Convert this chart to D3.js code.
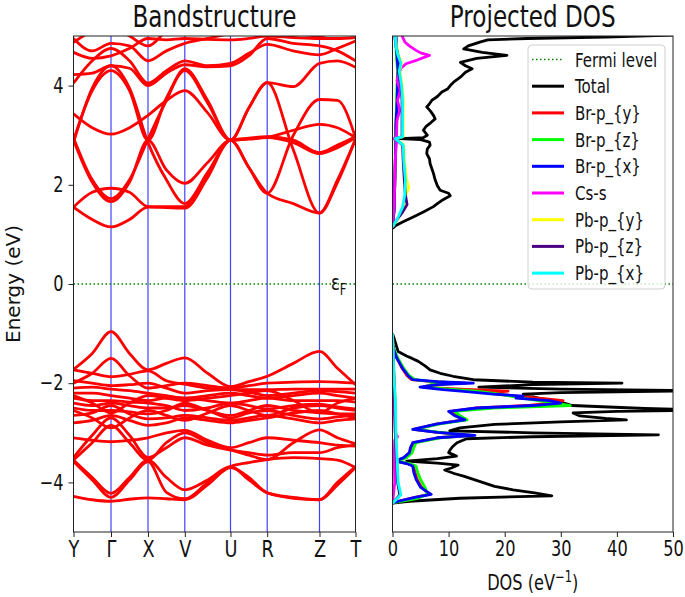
<!DOCTYPE html>
<html><head><meta charset="utf-8">
<script src="https://cdn.jsdelivr.net/npm/d3@7"></script>
<style>body{margin:0;background:#fff} svg{font-family:"DejaVu Sans",sans-serif}</style>
</head><body><svg id="c" width="685" height="597"></svg>
<script>
// ---------------- DATA ----------------
const kLabels = ["Y", "Γ", "X", "V", "U", "R", "Z", "T"];
const kTicks = [0, 0.375, 0.745, 1.113, 1.570, 1.937, 2.460, 2.820];
// k positions of the sampled band energies (high-symmetry points and segment midpoints)
const kPath = [0, 0.1875, 0.375, 0.56, 0.745, 0.929, 1.113, 1.3415, 1.570, 1.7535, 1.937, 2.1985, 2.460, 2.640, 2.820];

const conductionBands = [
  [1.55, 1.30, 1.15, 1.30, 1.55, 1.54, 1.53, 2.15, 2.90, 2.35, 1.83, 1.62, 1.43, 2.05, 2.92],
  [1.55, 1.85, 1.93, 1.85, 1.56, 1.56, 1.56, 2.20, 2.90, 2.35, 1.83, 3.00, 3.72, 3.70, 2.95],
  [2.90, 2.05, 1.66, 2.05, 2.90, 2.30, 2.03, 2.45, 2.90, 2.92, 2.95, 2.85, 2.63, 2.75, 2.95],
  [2.95, 2.10, 1.72, 2.10, 2.92, 3.70, 4.34, 3.70, 2.90, 2.93, 2.96, 3.10, 3.22, 3.15, 2.95],
  [3.43, 3.15, 3.02, 3.15, 3.40, 3.70, 3.90, 3.45, 2.90, 3.55, 4.06, 2.70, 1.43, 2.10, 2.92],
  [2.90, 3.90, 4.30, 3.90, 2.90, 3.75, 4.30, 3.65, 2.90, 3.55, 4.06, 3.98, 4.45, 4.50, 4.37],
  [2.85, 3.95, 4.40, 3.95, 2.85, 2.10, 1.62, 2.25, 2.90, 2.94, 2.97, 2.90, 2.65, 2.80, 2.97],
  [4.05, 4.50, 4.75, 4.50, 4.05, 4.30, 4.50, 4.40, 4.45, 4.65, 4.83, 4.70, 4.62, 4.75, 4.90],
  [4.22, 4.25, 4.40, 4.35, 4.00, 4.25, 4.42, 4.38, 4.40, 4.60, 4.95, 4.85, 4.80, 4.70, 4.50],
  [4.67, 4.55, 4.60, 4.75, 4.95, 4.92, 4.95, 4.93, 4.92, 4.95, 5.00, 4.97, 4.95, 4.95, 4.97],
  [4.95, 4.70, 4.85, 4.80, 4.50, 4.70, 4.85, 4.95, 5.05, 5.10, 5.10, 5.05, 5.00, 5.10, 5.20],
  [4.87, 5.10, 5.20, 5.00, 4.80, 5.10, 5.30, 5.30, 5.30, 5.30, 5.30, 5.30, 5.30, 5.30, 5.30]
];

const valenceBands = [
  [-1.72, -1.40, -0.96, -1.40, -1.73, -1.60, -1.49, -1.80, -2.07, -1.97, -1.86, -1.60, -1.36, -1.70, -2.03],
  [-2.00, -1.80, -1.50, -1.85, -2.10, -2.05, -2.00, -2.05, -2.10, -2.05, -2.00, -1.98, -1.97, -1.98, -2.00],
  [-1.73, -1.80, -1.87, -1.82, -1.75, -1.95, -2.02, -2.10, -2.13, -2.13, -2.13, -2.12, -2.12, -2.12, -2.12],
  [-1.95, -2.00, -2.05, -2.03, -2.00, -2.10, -2.20, -2.15, -2.13, -2.18, -2.25, -2.20, -2.15, -2.17, -2.20],
  [-2.10, -2.08, -2.12, -2.15, -2.20, -2.25, -2.30, -2.25, -2.20, -2.25, -2.30, -2.25, -2.20, -2.25, -2.30],
  [-2.20, -2.20, -2.25, -2.30, -2.35, -2.30, -2.30, -2.35, -2.40, -2.35, -2.30, -2.35, -2.35, -2.35, -2.38],
  [-2.30, -2.35, -2.35, -2.38, -2.40, -2.45, -2.55, -2.50, -2.40, -2.45, -2.52, -2.45, -2.42, -2.48, -2.52],
  [-2.40, -2.45, -2.40, -2.45, -2.50, -2.50, -2.45, -2.55, -2.65, -2.55, -2.45, -2.55, -2.60, -2.62, -2.62],
  [-2.50, -2.55, -2.55, -2.58, -2.62, -2.55, -2.40, -2.55, -2.70, -2.60, -2.55, -2.65, -2.72, -2.68, -2.65],
  [-2.65, -2.60, -2.45, -2.62, -2.72, -2.70, -2.65, -2.70, -2.75, -2.70, -2.65, -2.72, -2.80, -2.75, -2.72],
  [-2.80, -2.75, -2.65, -2.75, -2.85, -2.80, -2.70, -2.75, -2.80, -2.75, -2.70, -2.60, -2.55, -2.62, -2.70],
  [-2.25, -2.40, -2.60, -2.40, -2.25, -2.30, -2.35, -2.30, -2.25, -2.20, -2.15, -2.35, -2.60, -2.40, -2.30],
  [-2.55, -2.70, -2.90, -2.70, -2.55, -2.65, -2.75, -2.60, -2.45, -2.55, -2.65, -2.50, -2.45, -2.50, -2.55],
  [-3.10, -3.15, -3.18, -3.15, -3.10, -3.00, -2.95, -3.15, -3.30, -3.20, -3.10, -3.15, -3.20, -3.25, -3.27],
  [-3.55, -3.20, -2.85, -3.20, -3.55, -3.20, -3.00, -3.20, -3.34, -3.45, -3.54, -3.20, -2.94, -3.10, -3.22],
  [-3.50, -3.05, -2.70, -3.05, -3.50, -3.30, -3.10, -3.25, -3.35, -3.40, -3.45, -3.40, -3.40, -3.30, -3.25],
  [-3.55, -3.90, -4.22, -3.90, -3.55, -3.90, -4.15, -3.95, -3.68, -3.95, -4.21, -4.32, -4.35, -4.05, -3.70],
  [-3.58, -3.95, -4.30, -3.95, -3.58, -4.20, -4.33, -4.00, -3.68, -3.60, -3.54, -3.50, -3.52, -3.55, -3.70],
  [-4.28, -4.35, -4.38, -4.34, -4.31, -4.33, -4.35, -4.05, -3.70, -3.90, -4.21, -4.30, -4.35, -4.00, -3.68]
];

const energyTicks = [-4, -2, 0, 2, 4];
const dosTicks = [0, 10, 20, 30, 40, 50];

// DOS series: [energy (eV), DOS (1/eV)]
const dosTotal = [
  [5.02, 50], [4.98, 38], [4.95, 24], [4.92, 17], [4.88, 15.7], [4.80, 13.5], [4.74, 12.7], [4.67, 16], [4.61, 20.4],
  [4.55, 15], [4.47, 12.1], [4.40, 13], [4.34, 14.2], [4.27, 13], [4.17, 12.1], [4.08, 11], [4.00, 10.3], [3.93, 9.8],
  [3.87, 8.8], [3.78, 8.0], [3.70, 7.0], [3.62, 6.5], [3.57, 6.1], [3.48, 6.8], [3.40, 7.3], [3.33, 7.6], [3.25, 6.8],
  [3.18, 6.0], [3.10, 5.5], [3.00, 6.2], [2.95, 5.5], [2.93, 1.3], [2.91, 5.0], [2.86, 6.6], [2.80, 6.7], [2.72, 6.2],
  [2.63, 6.1], [2.52, 6.6], [2.43, 6.7], [2.33, 7.0], [2.23, 7.3], [2.10, 7.6], [1.98, 8.0], [1.89, 8.5], [1.83, 10.0],
  [1.78, 10.3], [1.70, 9.0], [1.62, 8.0], [1.56, 7.3], [1.45, 5.5], [1.35, 3.7], [1.25, 1.8], [1.18, 0.6], [1.12, 0],
  [-1.00, 0], [-1.10, 0.3], [-1.25, 0.7], [-1.36, 1.0], [-1.45, 2.5], [-1.50, 3.5], [-1.56, 4.6], [-1.65, 5.8],
  [-1.73, 6.7], [-1.80, 8.5], [-1.86, 10.8], [-1.93, 14.4], [-1.98, 25], [-2.00, 40.9], [-2.03, 25], [-2.08, 15.4],
  [-2.12, 30], [-2.15, 55], [-2.19, 30], [-2.22, 23.3], [-2.30, 26], [-2.38, 30], [-2.45, 32], [-2.51, 45], [-2.54, 55],
  [-2.57, 40], [-2.60, 32.2], [-2.66, 33.4], [-2.71, 38], [-2.74, 41.7], [-2.78, 30], [-2.83, 18.2], [-2.90, 12],
  [-2.96, 10.2], [-3.00, 25], [-3.04, 47.4], [-3.08, 25], [-3.12, 13.2], [-3.20, 11.5], [-3.27, 10.8], [-3.34, 10.3],
  [-3.40, 10.0], [-3.47, 11.4], [-3.52, 8], [-3.57, 2.5], [-3.61, 8], [-3.65, 11.7], [-3.71, 10.5], [-3.75, 9.3],
  [-3.82, 11], [-3.88, 12.8], [-3.98, 15.5], [-4.08, 18.2], [-4.15, 21.5], [-4.21, 25.3], [-4.27, 28.4], [-4.32, 12],
  [-4.38, 3], [-4.42, 0]
];
const dosBrPy = [
  [5.02, 0.6], [4.6, 0.8], [4.3, 1.0], [4.0, 0.9], [3.6, 0.8], [3.2, 0.6], [2.9, 0.6], [2.5, 0.5], [2.0, 0.4], [1.5, 0.3], [1.15, 0],
  [-1.20, 0], [-1.35, 0.3], [-1.50, 0.8], [-1.70, 1.7], [-1.85, 2.6], [-1.93, 3.4], [-1.97, 7], [-2.00, 13], [-2.03, 7],
  [-2.08, 5.5], [-2.12, 12], [-2.16, 20.6], [-2.20, 17], [-2.26, 22], [-2.31, 27], [-2.35, 30.4], [-2.40, 28], [-2.45, 24],
  [-2.50, 15], [-2.57, 10.5], [-2.65, 11.5], [-2.74, 12.5], [-2.82, 8], [-2.93, 3.8], [-2.99, 8], [-3.05, 14], [-3.10, 8],
  [-3.20, 3.8], [-3.30, 3.3], [-3.40, 3.1], [-3.50, 2.2], [-3.57, 0.7], [-3.62, 2.7], [-3.67, 3.8], [-3.80, 4.0],
  [-3.94, 4.4], [-4.10, 5.2], [-4.24, 6.5], [-4.30, 4], [-4.38, 1], [-4.42, 0]
];
const dosBrPz = [
  [5.02, 0.5], [4.6, 0.7], [4.3, 0.9], [4.0, 0.8], [3.6, 0.7], [3.2, 0.6], [2.9, 0.5], [2.5, 0.5], [2.0, 0.4], [1.5, 0.3], [1.15, 0],
  [-1.20, 0], [-1.35, 0.4], [-1.50, 1.0], [-1.70, 2.0], [-1.85, 3.0], [-1.93, 4.0], [-1.97, 7], [-2.00, 12.5], [-2.03, 7],
  [-2.08, 5.8], [-2.12, 10], [-2.16, 15], [-2.22, 19], [-2.28, 22], [-2.35, 26], [-2.40, 29], [-2.45, 31.7], [-2.50, 18],
  [-2.57, 11], [-2.65, 12], [-2.74, 13.3], [-2.82, 8.5], [-2.93, 4.0], [-2.99, 8.5], [-3.05, 14], [-3.10, 8.5],
  [-3.20, 4.2], [-3.30, 3.8], [-3.40, 3.5], [-3.50, 2.5], [-3.57, 1.0], [-3.62, 3.0], [-3.67, 4.2], [-3.80, 4.5],
  [-3.94, 5.0], [-4.10, 5.8], [-4.24, 6.2], [-4.32, 4.5], [-4.38, 1.5], [-4.42, 0]
];
const dosBrPx = [
  [5.02, 0.6], [4.6, 0.8], [4.3, 1.0], [4.0, 0.9], [3.6, 0.8], [3.2, 0.6], [2.9, 0.6], [2.5, 0.5], [2.0, 0.4], [1.5, 0.3], [1.15, 0],
  [-1.20, 0], [-1.35, 0.3], [-1.50, 0.8], [-1.70, 1.8], [-1.85, 2.8], [-1.93, 3.6], [-1.97, 8], [-2.00, 14.4], [-2.03, 8],
  [-2.08, 4.9], [-2.13, 9], [-2.17, 13.2], [-2.22, 18], [-2.26, 23.3], [-2.30, 22], [-2.35, 28], [-2.40, 30], [-2.45, 25],
  [-2.50, 15], [-2.57, 10], [-2.65, 11], [-2.74, 12.9], [-2.82, 8], [-2.93, 3.6], [-2.99, 8], [-3.05, 14.7], [-3.10, 8],
  [-3.20, 3.6], [-3.30, 3.2], [-3.40, 3.0], [-3.50, 2.0], [-3.57, 0.5], [-3.62, 2.5], [-3.67, 3.6], [-3.80, 3.8],
  [-3.94, 4.2], [-4.10, 5.0], [-4.24, 6.9], [-4.30, 4], [-4.38, 1], [-4.42, 0]
];
const dosCsS = [
  [5.05, 1.5], [4.98, 1.8], [4.88, 2.2], [4.80, 3.0], [4.71, 4.2], [4.66, 5.0], [4.61, 6.6], [4.52, 4.5], [4.44, 2.4],
  [4.35, 1.5], [4.25, 1.2], [4.10, 0.8], [3.90, 1.4], [3.70, 0.9], [3.50, 1.3], [3.30, 0.8], [2.96, 0.7], [2.93, 0.2],
  [2.90, 0.7], [2.50, 0.5], [2.00, 0.4], [1.60, 0.3], [1.15, 0],
  [-1.00, 0], [-2.00, 0.2], [-2.50, 0.3], [-3.00, 0.5], [-3.08, 0.9], [-3.15, 0.4], [-3.50, 0.3], [-4.00, 0.4], [-4.42, 0]
];
const dosPbPy = [
  [5.0, 0.5], [4.8, 0.7], [4.6, 1.1], [4.45, 1.6], [4.3, 1.3], [4.0, 1.7], [3.7, 1.9], [3.3, 1.9], [2.97, 1.9], [2.93, 0.6],
  [2.8, 2.0], [2.5, 2.1], [2.1, 2.5], [1.95, 2.9], [1.8, 2.4], [1.55, 1.9], [1.3, 0.9], [1.15, 0],
  [-1.00, 0], [-2.00, 0.3], [-2.30, 0.5], [-3.00, 0.6], [-3.50, 0.8], [-4.00, 1.0], [-4.25, 1.4], [-4.42, 0]
];
const dosPbPz = [
  [5.0, 0.4], [4.8, 0.6], [4.6, 1.0], [4.45, 1.4], [4.3, 1.1], [4.0, 1.5], [3.7, 1.7], [3.3, 1.7], [2.97, 1.7], [2.93, 0.5],
  [2.8, 1.8], [2.5, 1.9], [2.1, 2.1], [1.8, 2.3], [1.6, 2.6], [1.45, 1.8], [1.3, 0.8], [1.15, 0],
  [-1.00, 0], [-2.00, 0.3], [-2.30, 0.4], [-3.00, 0.5], [-3.50, 0.7], [-4.00, 0.9], [-4.25, 1.3], [-4.42, 0]
];
const dosPbPx = [
  [5.0, 0.5], [4.8, 0.6], [4.6, 1.0], [4.45, 1.5], [4.3, 1.2], [4.0, 1.6], [3.7, 1.8], [3.3, 1.8], [2.97, 1.8], [2.93, 0.5],
  [2.8, 1.9], [2.5, 2.0], [2.1, 2.3], [1.8, 2.2], [1.55, 1.8], [1.3, 0.8], [1.15, 0],
  [-1.00, 0], [-2.00, 0.3], [-2.30, 0.5], [-3.00, 0.6], [-3.50, 0.8], [-4.00, 1.0], [-4.25, 1.5], [-4.42, 0]
];

const dosNames = ["Total", "Br-p_{y}", "Br-p_{z}", "Br-p_{x}", "Cs-s", "Pb-p_{y}", "Pb-p_{z}", "Pb-p_{x}"];
const dosSeries = [dosTotal, dosBrPy, dosBrPz, dosBrPx, dosCsS, dosPbPy, dosPbPz, dosPbPx];
const dosColors = ["#000000", "#ff0000", "#00ff00", "#0000ff", "#ff00ff", "#ffff00", "#4b0082", "#00ffff"];

// ---------------- DRAW ----------------
const SX = 0.77; // horizontal glyph compression of the reference picture
const svg = d3.select("#c");
const yE = d3.scaleLinear().domain([-5, 5]).range([532, 36]);
const xK = d3.scaleLinear().domain([0, 2.82]).range([73.5, 355.5]);
const xD = d3.scaleLinear().domain([0, 50]).range([392.5, 673]);

const defs = svg.append("defs");
defs.append("clipPath").attr("id", "clipL").append("rect")
  .attr("x", xK(0)).attr("y", yE(5)).attr("width", xK(2.82) - xK(0)).attr("height", yE(-5) - yE(5));
defs.append("clipPath").attr("id", "clipR").append("rect")
  .attr("x", xD(0)).attr("y", yE(5)).attr("width", xD(50) - xD(0)).attr("height", yE(-5) - yE(5));

function sText(x, y, str, size, anchor, rot, sx) {
  const s = sx === undefined ? SX : sx;
  const g = svg.append("g").attr("transform", `translate(${x},${y}) scale(${s},1)` + (rot ? ` rotate(${rot})` : ""));
  return g.append("text").attr("text-anchor", anchor || "middle").attr("font-size", size).attr("fill", "#111").text(str);
}

// ----- Band structure panel -----
const gL = svg.append("g").attr("clip-path", "url(#clipL)");
gL.selectAll("line.kv").data(kTicks.slice(1, -1)).join("line")
  .attr("x1", d => xK(d)).attr("x2", d => xK(d)).attr("y1", yE(5)).attr("y2", yE(-5))
  .attr("stroke", "#0000ff").attr("stroke-opacity", 0.75).attr("stroke-width", 1.2);
gL.append("line").attr("x1", xK(0)).attr("x2", xK(2.82)).attr("y1", yE(0)).attr("y2", yE(0))
  .attr("stroke", "#008000").attr("stroke-width", 1.5).attr("stroke-dasharray", "1.5,2.5");

const bandLine = d3.line().x((d, i) => xK(kPath[i])).y(d => yE(d)).curve(d3.curveMonotoneX);
gL.selectAll("path.band").data(conductionBands.concat(valenceBands)).join("path")
  .attr("d", bandLine).attr("fill", "none").attr("stroke", "#ff0000").attr("stroke-width", 2.8)
  .attr("stroke-linejoin", "round");

// epsilon_F label
{
  const t = sText(331, yE(0) + 6, "ε", 21, "start");
  t.append("tspan").attr("dy", 5).attr("font-size", 15).text("F");
}

// axes left panel
const axL = svg.append("g").attr("transform", `translate(${xK(0)},0)`)
  .call(d3.axisLeft(yE).tickValues(energyTicks).tickSize(5).tickSizeOuter(0).tickPadding(5));
const axB = svg.append("g").attr("transform", `translate(0,${yE(-5)})`)
  .call(d3.axisBottom(xK).tickValues(kTicks).tickFormat((d, i) => kLabels[i]).tickSize(5).tickSizeOuter(0).tickPadding(4));
// axes right panel
const axD = svg.append("g").attr("transform", `translate(0,${yE(-5)})`)
  .call(d3.axisBottom(xD).tickValues(dosTicks).tickFormat(d3.format("d")).tickSize(5).tickSizeOuter(0).tickPadding(4));

[axL, axB, axD].forEach(a => {
  a.select(".domain").remove();
  a.selectAll(".tick line").attr("stroke", "#222").attr("stroke-width", 1);
  a.selectAll(".tick text").attr("fill", "#111").attr("font-family", "DejaVu Sans");
});
axL.selectAll(".tick text").attr("font-size", 21).attr("x", -10 / SX).attr("transform", `scale(${SX},1)`);
axB.selectAll(".tick text").attr("font-size", 23).attr("transform", `scale(${SX},1)`);
axD.selectAll(".tick text").attr("font-size", 21).attr("transform", `scale(${SX},1)`);

// ----- DOS panel -----
const gR = svg.append("g").attr("clip-path", "url(#clipR)");
gR.append("line").attr("x1", xD(0)).attr("x2", xD(50)).attr("y1", yE(0)).attr("y2", yE(0))
  .attr("stroke", "#008000").attr("stroke-width", 1.5).attr("stroke-dasharray", "1.5,2.5");
const dosLine = d3.line().x(d => xD(d[1])).y(d => yE(d[0])).curve(d3.curveLinear);
dosSeries.forEach((s, i) => {
  const segs = [s.filter(d => d[0] > 0), s.filter(d => d[0] < 0)];
  segs.forEach(seg => {
    gR.append("path").attr("d", dosLine(seg)).attr("fill", "none").attr("stroke", dosColors[i])
      .attr("stroke-width", 2.8).attr("stroke-linejoin", "round");
  });
});

// frames
[[xK(0), xK(2.82)], [xD(0), xD(50)]].forEach(([a, b]) => {
  svg.append("rect").attr("x", a).attr("y", yE(5)).attr("width", b - a).attr("height", yE(-5) - yE(5))
    .attr("fill", "none").attr("stroke", "#222").attr("stroke-width", 1);
});

// legend
const lg = svg.append("g");
lg.append("rect").attr("x", 528).attr("y", 45).attr("width", 137).attr("height", 244).attr("rx", 4)
  .attr("fill", "#fff").attr("fill-opacity", 0.8).attr("stroke", "#d0d0d0").attr("stroke-width", 1);
const legItems = [{name: "Fermi level", color: "#008000", dotted: true}]
  .concat(dosNames.map((n, i) => ({name: n, color: dosColors[i], dotted: false})));
legItems.forEach((it, i) => {
  const yy = 59.5 + i * 26.7;
  lg.append("line").attr("x1", 532).attr("x2", 564).attr("y1", yy).attr("y2", yy)
    .attr("stroke", it.color).attr("stroke-width", it.dotted ? 1.5 : 3)
    .attr("stroke-dasharray", it.dotted ? "1.5,2.5" : null);
  sText(575, yy + 7, it.name, 19.5, "start");
});

// titles and labels
sText(xK(1.41), 27, "Bandstructure", 30, "middle");
sText(xD(25), 27, "Projected DOS", 30, "middle");
sText(20, yE(0), "Energy (eV)", 20, "middle", -90, 1);
{
  const t = sText(xD(25), 590, "DOS (eV", 21, "middle");
  t.append("tspan").attr("dy", -8).attr("font-size", 15).text("−1");
  t.append("tspan").attr("dy", 8).text(")");
}
</script></body></html>
